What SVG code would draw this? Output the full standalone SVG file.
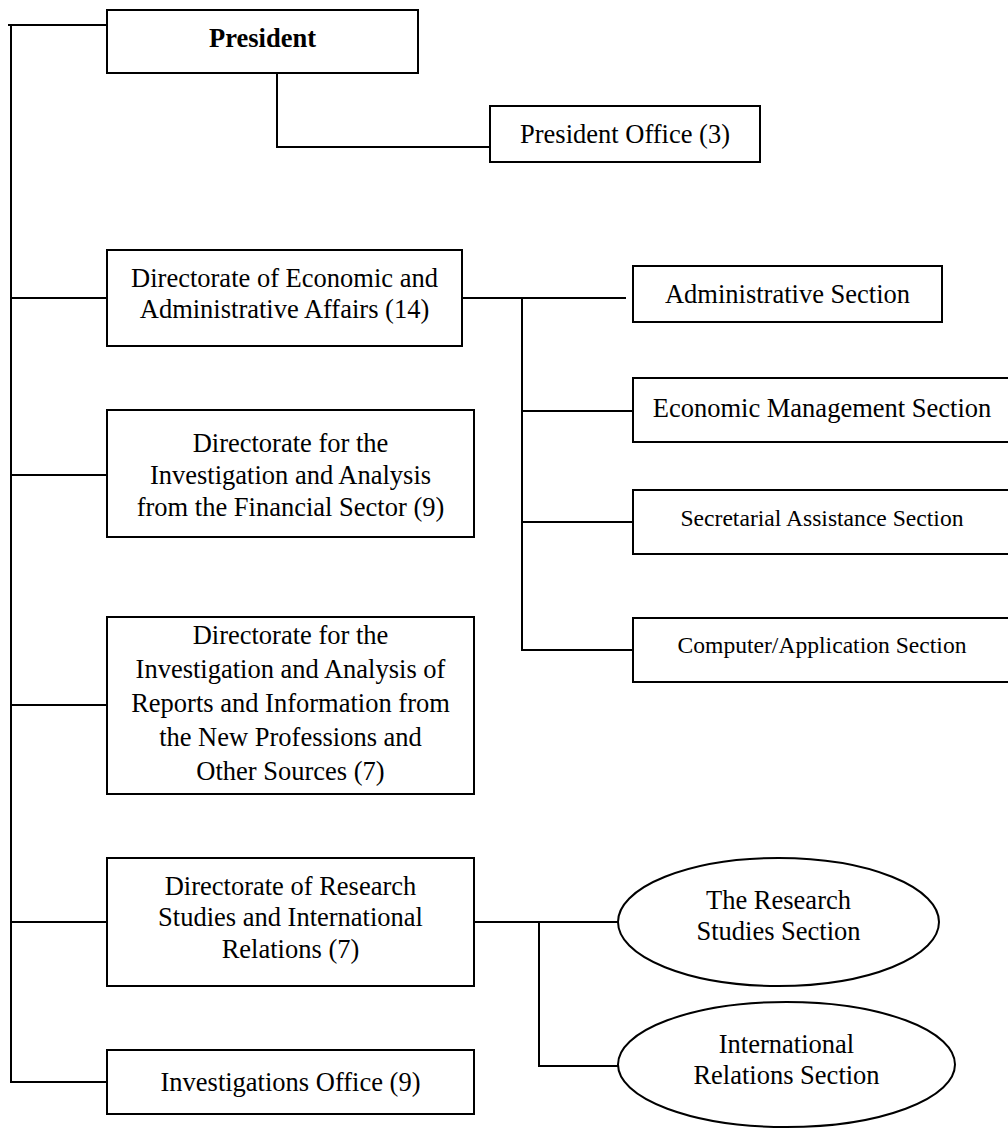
<svg xmlns="http://www.w3.org/2000/svg" width="1008" height="1128" viewBox="0 0 1008 1128">
<style>
.box{fill:#fff;stroke:#000;stroke-width:2}
.conn{fill:none;stroke:#000;stroke-width:2}
text{font-family:"Liberation Serif","Times New Roman",serif;font-size:26.5px;fill:#000;text-anchor:middle}
.sm{font-size:23.6px}
.b{font-weight:bold}
</style>
<rect width="1008" height="1128" fill="#fff"/>
<g id="connectors">
<path class="conn" d="M8,25 H107"/>
<path class="conn" d="M11,25 V1082 H107"/>
<path class="conn" d="M11,298 H107 M11,475 H107 M11,705 H107 M11,922 H107"/>
<path class="conn" d="M277,73 V147 H490"/>
<path class="conn" d="M462,298 H626 M522,298 V650 H633 M522,411 H633 M522,522 H633"/>
<path class="conn" d="M474,922 H618 M539,922 V1066 H618"/>
</g>
<g id="president"><rect class="box" x="107" y="10" width="311" height="63"/><text class="b" x="262.5" y="47">President</text></g>
<g id="president-office"><rect class="box" x="490" y="106" width="270" height="56"/><text x="625" y="143">President Office (3)</text></g>
<g id="dir-econ"><rect class="box" x="107" y="250" width="355" height="96"/><text x="284.5" y="287">Directorate of Economic and</text><text x="284.5" y="318">Administrative Affairs (14)</text></g>
<g id="admin-section"><rect class="box" x="633" y="266" width="309" height="56"/><text x="787.5" y="303">Administrative Section</text></g>
<g id="econ-mgmt"><rect class="box" x="633" y="378" width="380" height="64"/><text x="822" y="417">Economic Management Section</text></g>
<g id="secretarial"><rect class="box" x="633" y="490" width="380" height="64"/><text class="sm" x="822" y="526">Secretarial Assistance Section</text></g>
<g id="computer"><rect class="box" x="633" y="618" width="380" height="64"/><text class="sm" x="822" y="653">Computer/Application Section</text></g>
<g id="dir-financial"><rect class="box" x="107" y="410" width="367" height="127"/><text x="290.5" y="452">Directorate for the</text><text x="290.5" y="484">Investigation and Analysis</text><text x="290.5" y="516">from the Financial Sector (9)</text></g>
<g id="dir-reports"><rect class="box" x="107" y="617" width="367" height="177"/><text x="290.5" y="644">Directorate for the</text><text x="290.5" y="678">Investigation and Analysis of</text><text x="290.5" y="712">Reports and Information from</text><text x="290.5" y="746">the New Professions and</text><text x="290.5" y="780">Other Sources (7)</text></g>
<g id="dir-research"><rect class="box" x="107" y="858" width="367" height="128"/><text x="290.5" y="895">Directorate of Research</text><text x="290.5" y="926">Studies and International</text><text x="290.5" y="958">Relations (7)</text></g>
<g id="investigations"><rect class="box" x="107" y="1050" width="367" height="64"/><text x="290.5" y="1091">Investigations Office (9)</text></g>
<g id="research-section"><ellipse class="box" cx="778.5" cy="922" rx="160.5" ry="64"/><text x="778.5" y="909">The Research</text><text x="778.5" y="940">Studies Section</text></g>
<g id="intl-section"><ellipse class="box" cx="786.5" cy="1064.5" rx="168.5" ry="62.5"/><text x="786.5" y="1053">International</text><text x="786.5" y="1084">Relations Section</text></g>
</svg>
